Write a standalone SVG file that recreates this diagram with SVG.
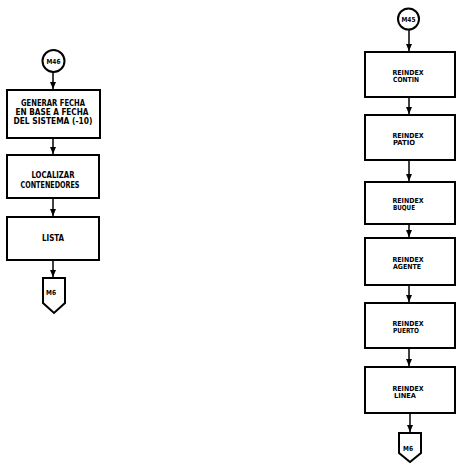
<svg xmlns="http://www.w3.org/2000/svg" width="458" height="463" viewBox="0 0 458 463">
<style>
.bx{fill:#fff;stroke:#000;stroke-width:2}
.t{font-family:"DejaVu Sans Condensed","Liberation Sans",sans-serif;font-weight:bold;font-size:8px;fill:#000;text-anchor:middle}
.s{font-size:7px}
.ln{stroke:#000;stroke-width:1.5;fill:none;marker-end:url(#ah)}
</style>
<defs>
<marker id="ah" viewBox="0 0 7 6" refX="7" refY="3" markerWidth="7" markerHeight="6" markerUnits="userSpaceOnUse" orient="auto">
<path d="M0,0 L7,3 L0,6 Z" fill="#000"/>
</marker>
</defs>
<rect width="458" height="463" fill="#fff"/>
<g id="connectors">
<line class="ln" x1="53" y1="72" x2="53" y2="89"/>
<line class="ln" x1="53" y1="138" x2="53" y2="154"/>
<line class="ln" x1="53" y1="198" x2="53" y2="216"/>
<line class="ln" x1="53" y1="260" x2="53" y2="277"/>
<line class="ln" x1="409" y1="30" x2="409" y2="51"/>
<line class="ln" x1="409" y1="97" x2="409" y2="114"/>
<line class="ln" x1="409" y1="160" x2="409" y2="181"/>
<line class="ln" x1="409" y1="224" x2="409" y2="237"/>
<line class="ln" x1="409" y1="285" x2="409" y2="302"/>
<line class="ln" x1="409" y1="348" x2="409" y2="366"/>
<line class="ln" x1="410" y1="413" x2="410" y2="432"/>
</g>
<g id="m46">
<circle cx="53.5" cy="61" r="11" fill="#fff" stroke="#000" stroke-width="2"/>
<text class="t s" x="53.5" y="64" textLength="14" lengthAdjust="spacingAndGlyphs">M46</text>
</g>
<g id="generar">
<rect class="bx" x="7" y="90" width="93" height="48"/>
<text class="t" x="53" y="106" textLength="64" lengthAdjust="spacingAndGlyphs">GENERAR FECHA</text>
<text class="t" x="52" y="115" textLength="73" lengthAdjust="spacingAndGlyphs">EN BASE A FECHA</text>
<text class="t" x="53" y="124" textLength="79" lengthAdjust="spacingAndGlyphs">DEL SISTEMA (-10)</text>
</g>
<g id="localizar">
<rect class="bx" x="7" y="155" width="92" height="43"/>
<text class="t" x="53" y="178" textLength="43" lengthAdjust="spacingAndGlyphs">LOCALIZAR</text>
<text class="t" x="50" y="188" textLength="59" lengthAdjust="spacingAndGlyphs">CONTENEDORES</text>
</g>
<g id="lista">
<rect class="bx" x="7" y="217" width="92" height="43"/>
<text class="t" x="53" y="241" textLength="22" lengthAdjust="spacingAndGlyphs">LISTA</text>
</g>
<g id="m6-left">
<path d="M43,278 L65,278 L65,303 L54,313 L43,303 Z" fill="#fff" stroke="#000" stroke-width="2"/>
<text class="t s" x="51" y="295" textLength="10" lengthAdjust="spacingAndGlyphs">M6</text>
</g>
<g id="m45">
<circle cx="408.5" cy="19" r="10.5" fill="#fff" stroke="#000" stroke-width="2"/>
<text class="t s" x="408.5" y="22" textLength="14" lengthAdjust="spacingAndGlyphs">M45</text>
</g>
<g id="contin">
<rect class="bx" x="365" y="52" width="90" height="45"/>
<text class="t s" x="408" y="75" textLength="31" lengthAdjust="spacingAndGlyphs">REINDEX</text>
<text class="t s" x="406" y="82" textLength="26" lengthAdjust="spacingAndGlyphs">CONTIN</text>
</g>
<g id="patio">
<rect class="bx" x="365" y="115" width="90" height="45"/>
<text class="t s" x="408" y="138" textLength="31" lengthAdjust="spacingAndGlyphs">REINDEX</text>
<text class="t s" x="404" y="145" textLength="22" lengthAdjust="spacingAndGlyphs">PATIO</text>
</g>
<g id="buque">
<rect class="bx" x="365" y="182" width="90" height="42"/>
<text class="t s" x="408" y="203" textLength="31" lengthAdjust="spacingAndGlyphs">REINDEX</text>
<text class="t s" x="404" y="210" textLength="22" lengthAdjust="spacingAndGlyphs">BUQUE</text>
</g>
<g id="agente">
<rect class="bx" x="365" y="238" width="90" height="47"/>
<text class="t s" x="408" y="262" textLength="31" lengthAdjust="spacingAndGlyphs">REINDEX</text>
<text class="t s" x="407" y="269" textLength="28" lengthAdjust="spacingAndGlyphs">AGENTE</text>
</g>
<g id="puerto">
<rect class="bx" x="365" y="303" width="90" height="45"/>
<text class="t s" x="408" y="326" textLength="31" lengthAdjust="spacingAndGlyphs">REINDEX</text>
<text class="t s" x="406" y="333" textLength="26" lengthAdjust="spacingAndGlyphs">PUERTO</text>
</g>
<g id="linea">
<rect class="bx" x="365" y="367" width="90" height="46"/>
<text class="t s" x="408" y="391" textLength="31" lengthAdjust="spacingAndGlyphs">REINDEX</text>
<text class="t s" x="405" y="398" textLength="22" lengthAdjust="spacingAndGlyphs">LINEA</text>
</g>
<g id="m6-right">
<path d="M399,433 L421,433 L421,453 L410,462 L399,453 Z" fill="#fff" stroke="#000" stroke-width="2"/>
<text class="t s" x="408" y="451" textLength="10" lengthAdjust="spacingAndGlyphs">M6</text>
</g>
</svg>
